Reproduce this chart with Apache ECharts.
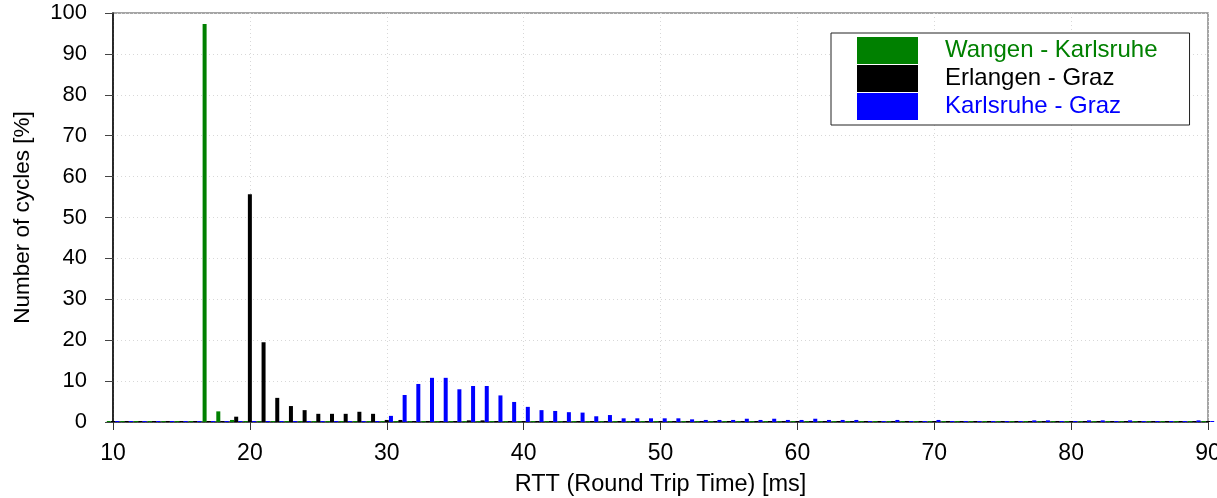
<!DOCTYPE html>
<html>
<head>
<meta charset="utf-8">
<script src="https://cdn.jsdelivr.net/npm/echarts@6/dist/echarts.min.js"></script>
<style>
html,body{margin:0;padding:0;background:#fff;}
#chart{width:1217px;height:498px;}
</style>
</head>
<body>
<div id="chart"></div>
<script>
// RTT bins [ms]
const rttBins = [
  10,11,12,13,14,15,16,17,18,19,
  20,21,22,23,24,25,26,27,28,29,
  30,31,32,33,34,35,36,37,38,39,
  40,41,42,43,44,45,46,47,48,49,
  50,51,52,53,54,55,56,57,58,59,
  60,61,62,63,64,65,66,67,68,69,
  70,71,72,73,74,75,76,77,78,79,
  80,81,82,83,84,85,86,87,88,89,
  90
];
const seriesNames = ['Wangen - Karlsruhe', 'Erlangen - Graz', 'Karlsruhe - Graz'];
// Number of cycles [%]
const wangenKarlsruhe = [
  0,0,0,0,0,0,0,97.3,2.6,0.5,
  0,0,0,0,0,0,0,0,0,0,
  0,0,0,0,0,0,0,0,0,0,
  0,0,0,0,0,0,0,0,0,0,
  0,0,0,0,0,0,0,0,0,0,
  0,0,0,0,0,0,0,0,0,0,
  0,0,0,0,0,0,0,0,0,0,
  0,0,0,0,0,0,0,0,0,0,
  0
];
const erlangenGraz = [
  0,0,0,0,0,0,0,0,0,1.3,
  55.7,19.5,5.9,3.9,2.9,2.0,2.0,2.0,2.5,2.0,
  0.5,0.5,0,0,0,0,0.4,0.4,0,0,
  0,0,0,0,0,0,0,0,0,0,
  0,0,0,0,0,0,0,0,0,0,
  0,0,0,0,0,0,0,0,0,0,
  0,0,0,0,0,0,0,0,0,0,
  0,0,0,0,0,0,0,0,0,0,
  0
];
const karlsruheGraz = [
  0,0,0,0,0,0,0,0,0,0,
  0,0,0,0,0,0,0,0,0,0,
  1.5,6.6,9.3,10.8,10.8,8.0,8.8,8.8,6.5,4.9,
  3.7,2.9,2.7,2.4,2.3,1.4,1.7,0.9,0.9,0.9,
  0.9,0.9,0.65,0.5,0.5,0.5,0.8,0.5,0.8,0.5,
  0.5,0.8,0.5,0.5,0.5,0.2,0.2,0.5,0,0,
  0.5,0,0,0,0,0,0,0.4,0.4,0,
  0,0.4,0.4,0,0.4,0,0,0,0,0.4,
  0
];
const colors = ['#008000', '#000000', '#0000ff'];
const yTicks = {min: 0, max: 100, interval: 10};

const font = 'Liberation Sans, Arial, sans-serif';
const chart = echarts.init(document.getElementById('chart'), null, {renderer: 'canvas'});

const makeSeries = (name, data, color) => ({
  name: name,
  type: 'bar',
  data: data,
  barWidth: 4,
  barGap: '5%',
  barMinHeight: 1,
  itemStyle: {color: color},
  animation: false
});

chart.setOption({
  animation: false,
  backgroundColor: '#fff',
  grid: {
    left: 113, right: 9, top: 13, bottom: 76,
    outerBoundsMode: 'none',
    containLabel: false,
    show: true, borderColor: '#888', borderWidth: 1.5, backgroundColor: 'transparent'
  },
  legend: {
    orient: 'vertical',
    left: 831, top: 33,
    padding: [4, 32, 5, 26],
    itemWidth: 61, itemHeight: 27, itemGap: 1,
    icon: 'rect',
    borderColor: '#222', borderWidth: 1,
    backgroundColor: '#fff',
    data: seriesNames.map((n, i) => ({name: n, textStyle: {color: colors[i]}})),
    textStyle: {fontFamily: font, fontSize: 24, padding: [0, 0, 0, 22]}
  },
  xAxis: {
    type: 'category',
    data: rttBins,
    boundaryGap: false,
    offset: 8,
    name: 'RTT (Round Trip Time) [ms]',
    nameLocation: 'middle',
    nameGap: 43,
    nameTextStyle: {fontFamily: font, fontSize: 23.5, color: '#000'},
    axisLine: {show: true, lineStyle: {color: '#333', width: 1.5}},
    axisTick: {show: true, interval: 9, length: 8, lineStyle: {color: '#333', width: 1}},
    axisLabel: {interval: 9, margin: 12, fontFamily: font, fontSize: 23, color: '#000'},
    splitLine: {show: true, interval: 9, lineStyle: {color: '#d8d8d8', type: [1, 3], width: 1}}
  },
  yAxis: {
    type: 'value',
    min: yTicks.min, max: yTicks.max, interval: yTicks.interval,
    name: 'Number of cycles [%]',
    nameLocation: 'middle',
    nameGap: 79,
    nameTextStyle: {fontFamily: font, fontSize: 22.5, color: '#000'},
    axisLine: {show: true, lineStyle: {color: '#000', width: 1.5}},
    axisTick: {show: true, length: 8, lineStyle: {color: '#444', width: 1}},
    axisLabel: {margin: 26, fontFamily: font, fontSize: 22, color: '#000'},
    splitLine: {show: true, lineStyle: {color: '#d8d8d8', type: [1, 3], width: 1}}
  },
  series: [
    makeSeries(seriesNames[0], wangenKarlsruhe, colors[0]),
    makeSeries(seriesNames[1], erlangenGraz, colors[1]),
    makeSeries(seriesNames[2], karlsruheGraz, colors[2])
  ]
});
</script>
</body>
</html>
